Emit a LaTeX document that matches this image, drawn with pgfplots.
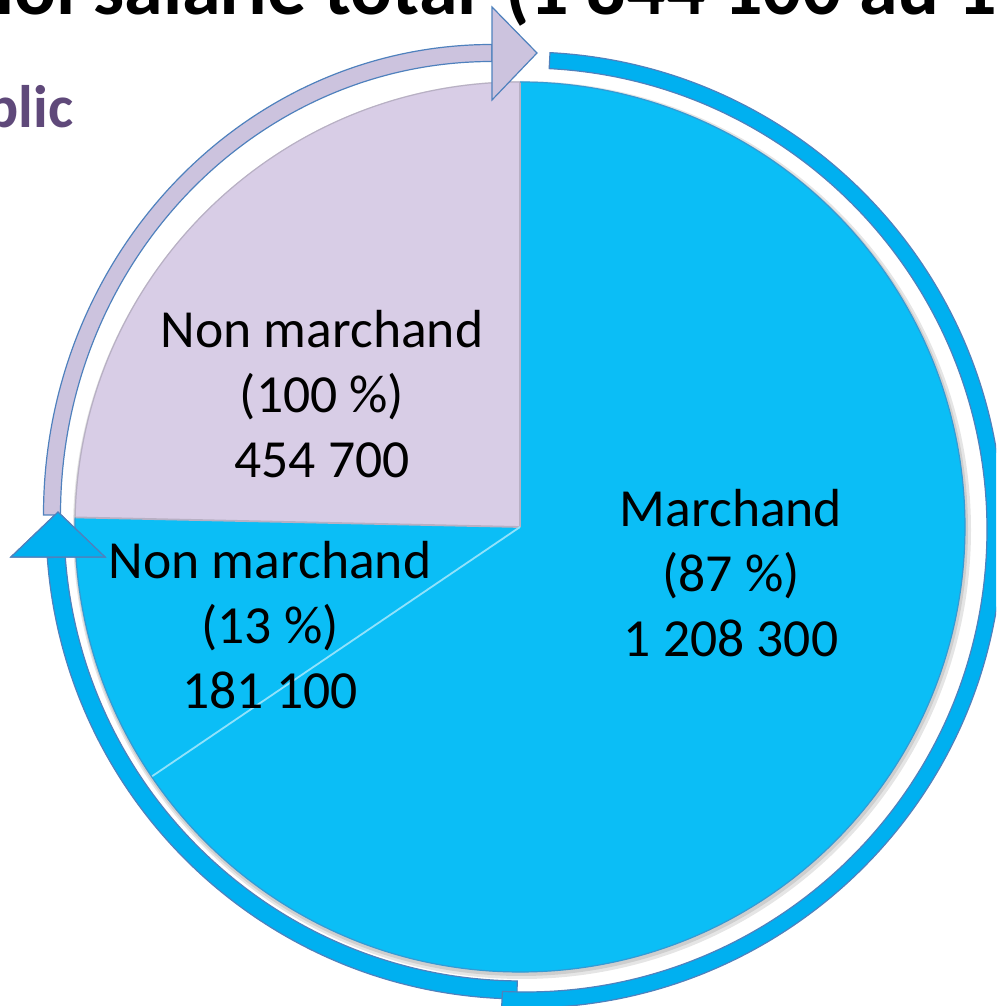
\documentclass[border=0pt]{standalone}
\usepackage{fontspec}
\setmainfont{Carlito}
\usepackage{pgfplots}
\pgfplotsset{compat=1.18}

\definecolor{lav}{HTML}{D8CDE6}
\definecolor{lavedge}{HTML}{B8B0C4}
\definecolor{pieblue}{HTML}{0BBEF6}
\definecolor{ringblue}{HTML}{00B0F0}
\definecolor{edgeblue}{HTML}{4F81BD}
\definecolor{arrowlav}{HTML}{CCC3DE}
\definecolor{pubpurple}{HTML}{5F497A}

% effectifs (milliers)
\def\vPub{454.7}  % non marchand, secteur public
\def\vNM{181.1}   % non marchand, secteur prive
\def\vM{1208.3}   % marchand
\pgfmathsetmacro{\tot}{\vPub+\vNM+\vM}
\pgfmathsetmacro{\aA}{90+360*(\vPub/\tot)}
\pgfmathsetmacro{\aB}{\aA+360*(\vNM/\tot)}

% 1 unite d'axe = 0.5pt
\def\R{222.5pt}

\begin{document}
\begin{tikzpicture}
\useasboundingbox (0,0) rectangle (498pt,503pt);
\clip (0,0) rectangle (498pt,503pt);
\begin{axis}[
    at={(0,0)}, anchor=south west,
    width=498pt, height=503pt, scale only axis,
    xmin=0, xmax=996, ymin=0, ymax=1006,
    hide axis, clip=false,
]
% ombre
\fill[black, opacity=0.10] (axis cs:522,476) circle[radius=224.5pt];
\fill[black, opacity=0.10] (axis cs:521,477) circle[radius=223.5pt];
% secteurs
\fill[lav] (axis cs:520,479) -- ++(90:\R) arc[start angle=90, end angle=\aA, radius=\R] -- cycle;
\fill[pieblue] (axis cs:520,479) -- ++(\aA:\R) arc[start angle=\aA, end angle=\aB, radius=\R] -- cycle;
\fill[pieblue] (axis cs:520,479) -- ++(\aB:\R) arc[start angle=\aB, end angle=450, radius=\R] -- cycle;
\draw[lavedge, line width=0.9pt] (axis cs:520,479) -- ++(\aA:\R);
\draw[lavedge, line width=0.8pt] (axis cs:520,479) -- ++(90:\R);
\draw[white!55!pieblue, line width=0.9pt] (axis cs:520,479) -- ++(\aB:\R);
\draw[lavedge, line width=0.6pt] (axis cs:520,479) ++(90:\R) arc[start angle=90, end angle=\aA, radius=\R];
\draw[edgeblue!60!pieblue, line width=0.6pt] (axis cs:520,479) ++(\aA:\R) arc[start angle=\aA, end angle=450, radius=\R];

% anneau bleu (deux morceaux)
\filldraw[fill=ringblue, draw=edgeblue, line width=0.6pt]
  (axis cs:522,483) ++(-90.6:238pt) arc[start angle=-90.6, end angle=-175.8, radius=238pt]
  -- ++(-175.8:-9pt) arc[start angle=-175.8, end angle=-90.6, radius=229pt] -- cycle;
\filldraw[fill=ringblue, draw=edgeblue, line width=0.6pt]
  (axis cs:525,476) ++(87:239pt) arc[start angle=87, end angle=-92.8, radius=239pt]
  -- ++(-92.8:-8pt) arc[start angle=-92.8, end angle=87, radius=231pt] -- cycle;
\filldraw[fill=ringblue, draw=edgeblue, line width=0.6pt]
  (axis cs:11,449) -- (axis cs:105,449) -- (axis cs:58,494) -- cycle;

% fleche lavande
\filldraw[fill=arrowlav, draw=edgeblue, line width=0.6pt]
  (axis cs:492,491) ++(180:224.25pt and 235.25pt) arc[start angle=180, end angle=90, x radius=224.25pt, y radius=235.25pt]
  -- ++(0,-8.5pt) arc[start angle=90, end angle=180, x radius=215.75pt, y radius=226.75pt] -- cycle;
\filldraw[fill=ringblue, draw=edgeblue, line width=0.6pt]
  (axis cs:11,449) -- (axis cs:105,449) -- (axis cs:58,494) -- cycle;
\filldraw[fill=arrowlav, draw=edgeblue, line width=0.6pt]
  (axis cs:492,999) -- (axis cs:537,953) -- (axis cs:492,906) -- cycle;

% etiquettes
\node[align=center, font=\fontsize{26.8}{32.4}\selectfont] at (axis cs:322,612) {Non marchand\\(100 \%)\\454 700};
\node[align=center, font=\fontsize{26.8}{32.4}\selectfont] at (axis cs:270,381) {Non marchand\\(13 \%)\\181 100};
\node[align=center, font=\fontsize{26.8}{32.4}\selectfont] at (axis cs:731,433) {Marchand\\(87 \%)\\1 208 300};

% titre et sous-titre (rognes par le cadre)
\node[anchor=base east, inner sep=0pt, font=\bfseries\fontsize{39}{44}\selectfont] at (axis cs:477,991) {Emploi salarié total};
\node[anchor=base west, inner sep=0pt, font=\bfseries\fontsize{39}{44}\selectfont] at (axis cs:505,991) {(1 844 100 au 1er janvier 2010)};
\node[anchor=base east, inner sep=0pt, text=pubpurple, font=\bfseries\fontsize{30}{36}\selectfont] at (axis cs:74,878) {Secteur public};
\end{axis}
\end{tikzpicture}
\end{document}
